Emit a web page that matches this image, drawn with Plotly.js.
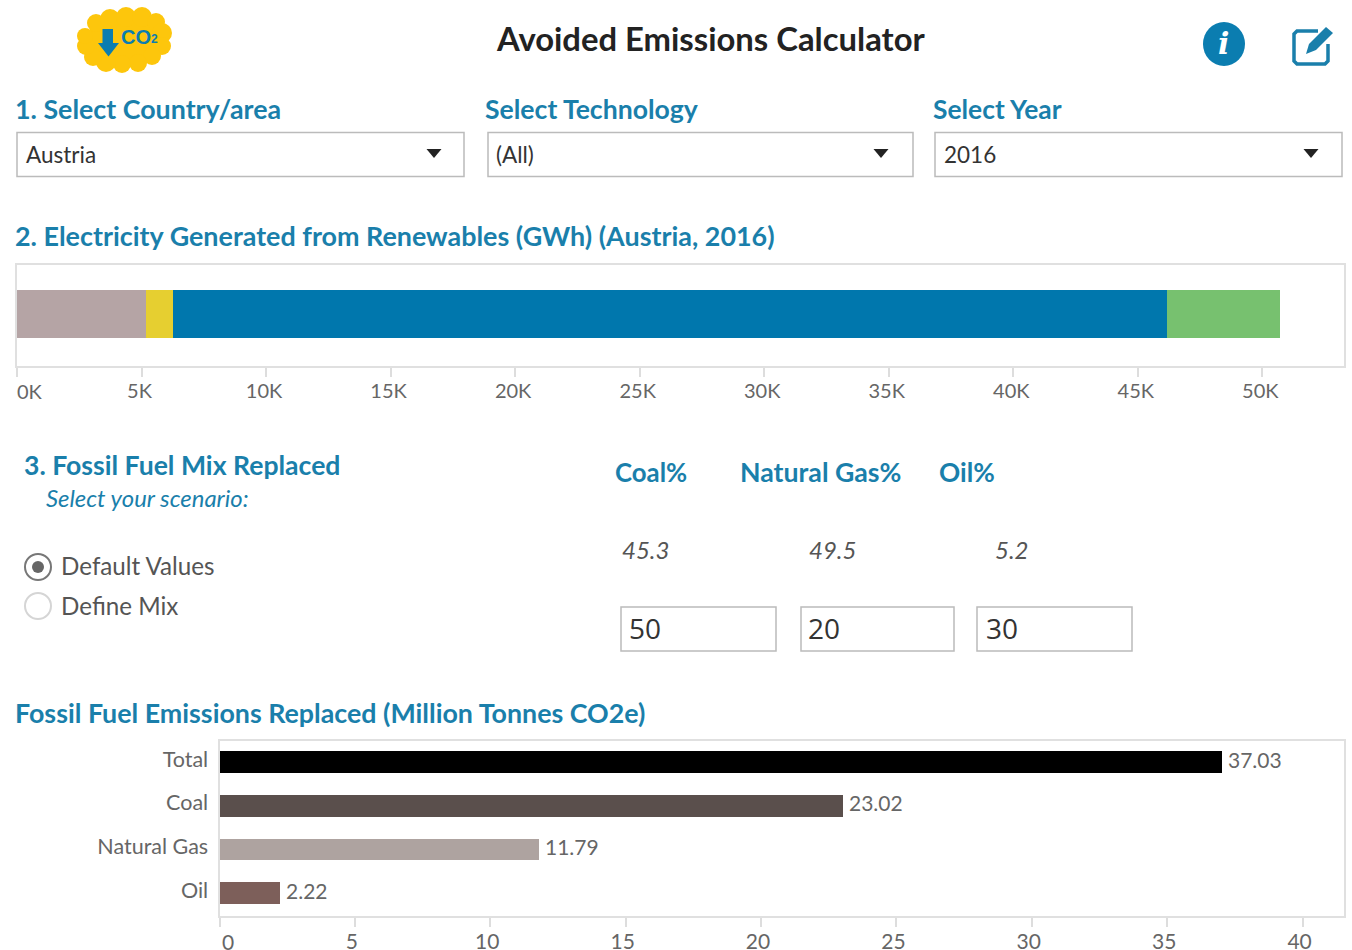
<!DOCTYPE html>
<html><head><meta charset="utf-8">
<script src="https://cdn.plot.ly/plotly-3.0.1.min.js"></script>
<style>html,body{margin:0;padding:0;background:#fff}#c{width:1352px;height:950px}</style>
</head><body><div id="c"></div>
<script>
// Data
const techNames = ["Bioenergy","Geothermal and solar","Hydropower","Wind"];
const techValues = [5190, 1090, 39900, 4520];
const techColors = ["#b5a4a5","#e6cf30","#0077ad","#77c16f"];
const genTickVals = [0,5000,10000,15000,20000,25000,30000,35000,40000,45000,50000];
const genTickText = ["0K","5K","10K","15K","20K","25K","30K","35K","40K","45K","50K"];
const fuelCats = ["Total","Coal","Natural Gas","Oil"];
const fuelValues = [37.03,23.02,11.79,2.22];
const fuelBarColors = ["#000000","#5a4f4c","#aea3a0","#7d5f5a"];
const emisTickVals = [0,5,10,15,20,25,30,35,40];
const emisTickText = ["0","5","10","15","20","25","30","35","40"];
const defaultMix = ["45.3","49.5","5.2"];
const customMix = ["50","20","30"];

const W=1352,H=950;
const px=x=>x/W, py=y=>1-y/H;
const TEAL="#1a7fab", FONT="Lato", LINE="#e0e0e0", TXT="#666";
const ann=[], shp=[];
function t(text,x,y,size,color,o={}){ann.push(Object.assign({text,xref:"paper",yref:"paper",x:px(x),y:py(y),xanchor:o.anchor||"left",yanchor:"middle",showarrow:false,borderpad:0,
  font:{family:o.family||FONT,size,color,weight:o.weight||400,style:o.style||"normal"}}));}
function box(x0,y0,x1,y1,line,w,fill){shp.push({type:"rect",xref:"paper",yref:"paper",x0:px(x0),x1:px(x1),y0:py(y0),y1:py(y1),line:{color:line,width:w},fillcolor:fill||"#fff"});}
function circ(cx,cy,rx,ry,fill,line,w){shp.push({type:"circle",xref:"paper",yref:"paper",x0:px(cx-rx),x1:px(cx+rx),y0:py(cy-ry),y1:py(cy+ry),fillcolor:fill,line:{color:line||fill,width:w===undefined?0:w}});}
function poly(pts,fill){shp.push({type:"path",xref:"paper",yref:"paper",path:"M"+pts.map(p=>px(p[0])+","+py(p[1])).join(" L")+" Z",fillcolor:fill,line:{width:0}});}
function stroke(pts,color,w){shp.push({type:"path",xref:"paper",yref:"paper",path:"M"+pts.map(p=>px(p[0])+","+py(p[1])).join(" L"),line:{color,width:w}});}

// Logo
circ(124,40,38,24,"#fdc60c");
[[96,23,9],[110,19,10],[126,17,10],[142,17,10],[156,22,9],[162,33,10],[162,46,9],[152,56,9],[138,63,9],[122,64,9],[106,62,10],[93,57,9],[86,46,9],[85,36,8]]
  .forEach(b=>circ(b[0],b[1],b[2],b[2],"#fdc60c"));
poly([[102.5,29],[113,29],[113,43],[119,43],[108.5,56.5],[98,43],[102.5,43]],"#0b7db0");
t("<b>CO</b>",120,37,20,"#0b7db0",{family:"Liberation Sans",weight:700});
t("<b>2</b>",150,39,12,"#0b7db0",{family:"Liberation Sans",weight:700});

// Title and icons
t("Avoided Emissions Calculator",711,39,32.8,"#222",{anchor:"center",weight:700});
circ(1224,44,21,22,"#0b7db0");
t("i",1223,44,30,"#fff",{anchor:"center",family:"DejaVu Serif",weight:700,style:"italic"});
stroke([[1318,31],[1297,31],[1294,34],[1294,61],[1297,64],[1325,64],[1328,61],[1328,44]],"#1a7fab",3.5);
poly([[1306,54],[1309,44],[1326,27],[1333,33],[1316,50]],"#1a7fab");

// Section 1
t("1. Select Country/area",14,109,26.8,TEAL,{weight:700});
t("Select Technology",484,109,26.6,TEAL,{weight:700});
t("Select Year",932,109,26.4,TEAL,{weight:700});
[[17,464,"Austria",24.5,434],[488,913,"(All)",495,881],[935,1342,"2016",942.5,1311]].forEach(d=>{
  box(d[0],132.5,d[1],176.5,"#bbbbbb",1.5);
  t(d[2],d[3],154,22.5,"#333");
  poly([[d[4]-7.5,149],[d[4]+7.5,149],[d[4],158]],"#222");
});

// Section headers
t("2. Electricity Generated from Renewables (GWh) (Austria, 2016)",14,235,26.9,TEAL,{weight:700});
t("3. Fossil Fuel Mix Replaced",23,465,26.6,TEAL,{weight:700});
t("Select your scenario:",44.5,497,23.9,TEAL,{style:"italic"});
circ(38,567,13,13,"#fff","#777",2);
circ(38,567,6,6,"#666");
t("Default Values",60,565.5,24.2,"#555");
circ(38,606,13,13,"#fff","#d5d5d5",2);
t("Define Mix",60,605.5,24.2,"#555");
t("Coal%",614,472,25.8,TEAL,{weight:700});
t("Natural Gas%",738.5,472,26.7,TEAL,{weight:700});
t("Oil%",938.5,472,26.3,TEAL,{weight:700});
[621,808,994].forEach((x,i)=>t(defaultMix[i],x,549,24,"#555",{style:"italic"}));
[[621,776,627.5],[801,954,807],[977,1132,985]].forEach((d,i)=>{
  box(d[0],607,d[1],651,"#bbbbbb",1.5);
  t(customMix[i],d[2],628,28,"#333",{family:"Open Sans"});
});
t("Fossil Fuel Emissions Replaced (Million Tonnes CO2e)",14,713,26.8,TEAL,{weight:700});

// Labels of the first tick on each axis sit to the right of the tick
ann.push({text:genTickText[0],xref:"x",yref:"paper",x:0,y:py(391),xanchor:"left",xshift:-1,yanchor:"middle",showarrow:false,borderpad:0,font:{family:FONT,size:20,color:TXT}});
ann.push({text:emisTickText[0],xref:"x2",yref:"paper",x:emisTickVals[0],y:py(941),xanchor:"left",xshift:1,yanchor:"middle",showarrow:false,borderpad:0,font:{family:FONT,size:21,color:TXT}});

// Value labels beside the bars
fuelCats.forEach((c,i)=>ann.push({text:fuelValues[i].toFixed(2),xref:"x2",yref:"y2",x:fuelValues[i],y:c,xanchor:"left",yanchor:"middle",xshift:5,yshift:3,showarrow:false,borderpad:0,
  font:{family:FONT,size:21,color:TXT}}));

const traces = techNames.map((n,i)=>({type:"bar",orientation:"h",name:n,x:[techValues[i]],y:["Generation"],xaxis:"x",yaxis:"y",width:0.475,marker:{color:techColors[i],line:{width:0}},hoverinfo:"skip"}));
traces.push({type:"bar",orientation:"h",name:"Emissions",x:fuelValues,y:fuelCats,xaxis:"x2",yaxis:"y2",width:0.5,marker:{color:fuelBarColors,line:{width:0}},hoverinfo:"skip"});

const axisBase={showgrid:false,zeroline:false,showline:true,mirror:true,linecolor:LINE,linewidth:2,fixedrange:true};
const layout={
  width:W,height:H,margin:{l:0,r:0,t:0,b:0},paper_bgcolor:"#fff",plot_bgcolor:"#fff",barmode:"stack",showlegend:false,
  font:{family:FONT,color:TXT},
  xaxis:Object.assign({},axisBase,{domain:[px(17),px(1344)],range:[0,53280],anchor:"y",tickmode:"array",tickvals:genTickVals,ticktext:[""].concat(genTickText.slice(1)),ticks:"outside",ticklen:9,tickcolor:"#ddd",tickwidth:2,tickfont:{family:FONT,size:20,color:TXT},ticklabelshift:-2,ticklabelstandoff:-3}),
  yaxis:Object.assign({},axisBase,{domain:[py(366),py(265)],range:[-0.515,0.485],anchor:"x",type:"category",showticklabels:false,ticks:""}),
  xaxis2:Object.assign({},axisBase,{domain:[px(219.5),px(1344)],range:[0,41.53],anchor:"y2",tickmode:"array",tickvals:emisTickVals,ticktext:[""].concat(emisTickText.slice(1)),ticks:"outside",ticklen:9,tickcolor:"#ddd",tickwidth:2,tickfont:{family:FONT,size:21,color:TXT},ticklabelshift:-3,ticklabelstandoff:-3}),
  yaxis2:Object.assign({},axisBase,{domain:[py(916),py(741)],range:[3.52,-0.48],anchor:"x2",type:"category",categoryorder:"array",categoryarray:fuelCats,ticks:"",tickfont:{family:FONT,size:21.5,color:TXT},ticklabelshift:3,ticklabelstandoff:5}),
  shapes:shp,annotations:ann
};
Plotly.newPlot("c",traces,layout,{displayModeBar:false,staticPlot:true});
</script></body></html>
